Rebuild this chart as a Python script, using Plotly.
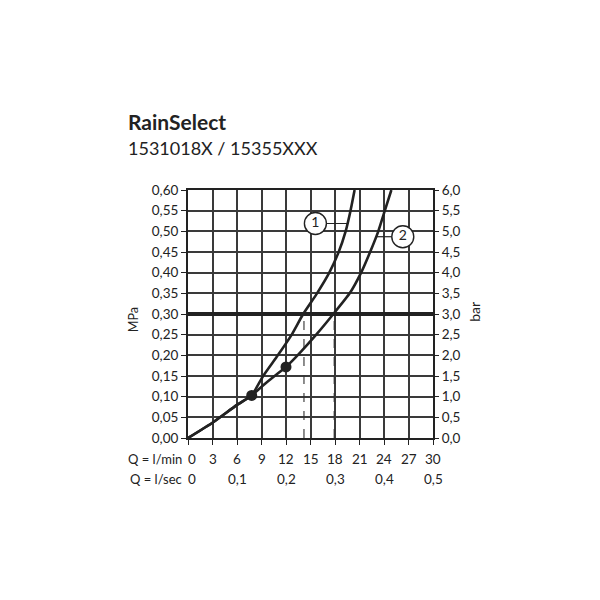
import plotly.graph_objects as go

# ---- data ----
flow_ticks = [0, 3, 6, 9, 12, 15, 18, 21, 24, 27, 30]
flow_tick_labels = ["0", "3", "6", "9", "12", "15", "18", "21", "24", "27", "30"]
lsec_vals = [0, 6, 12, 18, 24, 30]
lsec_labels = ["0", "0,1", "0,2", "0,3", "0,4", "0,5"]
mpa_ticks = [0.00, 0.05, 0.10, 0.15, 0.20, 0.25, 0.30, 0.35, 0.40, 0.45, 0.50, 0.55, 0.60]
mpa_labels = ["0,00", "0,05", "0,10", "0,15", "0,20", "0,25", "0,30", "0,35", "0,40", "0,45", "0,50", "0,55", "0,60"]
bar_ticks = [0, 0.5, 1, 1.5, 2, 2.5, 3, 3.5, 4, 4.5, 5, 5.5, 6]
bar_labels = ["0,0", "0,5", "1,0", "1,5", "2,0", "2,5", "3,0", "3,5", "4,0", "4,5", "5,0", "5,5", "6,0"]

curve1_q = [0, 3, 6, 7.8, 9.2, 11.0, 12.7, 14.1, 15.8, 17.3, 18.45, 19.3, 19.9, 20.4]
curve1_p = [0, 0.037, 0.080, 0.103, 0.15, 0.20, 0.25, 0.30, 0.35, 0.40, 0.45, 0.50, 0.55, 0.60]
curve2_q = [0, 3, 6, 7.8, 9, 10.6, 12, 13.7, 15.7, 17.8, 19.8, 21.2, 22.3, 23.3, 24.1, 24.9]
curve2_p = [0, 0.037, 0.080, 0.103, 0.124, 0.15, 0.172, 0.206, 0.25, 0.30, 0.35, 0.40, 0.45, 0.50, 0.55, 0.60]

dot_q = [7.8, 12.0]
dot_p = [0.103, 0.172]

ref_pressure = 0.30
flow_at_ref = [14.2, 17.9]

callout_labels = ["1", "2"]
callout_q = [15.6, 26.3]
callout_p = [0.519, 0.487]
leader_end_q = [19.6, 23.0]

INK = "#222222"
GRID = "#3a3a3a"
FONT = "Lato"
TICK_SIZE = 13.5

fig = go.Figure()

# dashed verticals
for q in flow_at_ref:
    fig.add_trace(go.Scatter(x=[q, q], y=[0, ref_pressure], mode="lines",
                             line=dict(color="#333333", width=1.1, dash="dash"),
                             hoverinfo="skip", showlegend=False))

# curves
fig.add_trace(go.Scatter(x=curve1_q, y=curve1_p, mode="lines",
                         line=dict(color=INK, width=2.6, shape="spline", smoothing=0.4),
                         showlegend=False))
fig.add_trace(go.Scatter(x=curve2_q, y=curve2_p, mode="lines",
                         line=dict(color=INK, width=2.6, shape="spline", smoothing=0.4),
                         showlegend=False))
fig.add_trace(go.Scatter(x=dot_q, y=dot_p, mode="markers",
                         marker=dict(color=INK, size=11), showlegend=False))

# leader lines
for cq, cp, lq in zip(callout_q, callout_p, leader_end_q):
    fig.add_trace(go.Scatter(x=[cq, lq], y=[cp, cp], mode="lines",
                             line=dict(color=INK, width=1.2), showlegend=False))

# callout circles
fig.add_trace(go.Scatter(x=callout_q, y=callout_p, mode="markers+text",
                         text=callout_labels, textposition="middle center",
                         textfont=dict(family=FONT, size=14, color=INK),
                         marker=dict(symbol="circle", size=22, color="white",
                                     line=dict(color=INK, width=1.4)),
                         cliponaxis=False, showlegend=False))

# invisible trace for bar axis
fig.add_trace(go.Scatter(x=[0, 30], y=[0, 6], yaxis="y2", mode="markers",
                         marker=dict(opacity=0), hoverinfo="skip", showlegend=False))

fig.add_shape(type="line", xref="paper", x0=0, x1=1, yref="y", y0=ref_pressure, y1=ref_pressure,
              line=dict(color=INK, width=4))

annotations = []
# title
annotations.append(dict(text="<b>RainSelect</b>", xref="paper", yref="paper", x=0, y=1,
                        xanchor="left", yanchor="middle", xshift=-62, yshift=69,
                        showarrow=False, font=dict(family=FONT, size=21, color=INK)))
annotations.append(dict(text="1531018X / 15355XXX", xref="paper", yref="paper", x=0, y=1,
                        xanchor="left", yanchor="middle", xshift=-62, yshift=42,
                        showarrow=False, font=dict(family=FONT, size=18, color=INK)))
# axis titles
annotations.append(dict(text="MPa", xref="paper", yref="paper", x=0, y=0.475, textangle=-90,
                        xanchor="center", yanchor="middle", xshift=-55,
                        showarrow=False, font=dict(family=FONT, size=12.5, color=INK)))
annotations.append(dict(text="bar", xref="paper", yref="paper", x=1, y=0.509, textangle=-90,
                        xanchor="center", yanchor="middle", xshift=42,
                        showarrow=False, font=dict(family=FONT, size=14, color=INK)))
# bottom rows
annotations.append(dict(text="Q = l/min", xref="paper", yref="paper", x=0, y=0,
                        xanchor="right", yanchor="middle", xshift=-4, yshift=-21,
                        showarrow=False, font=dict(family=FONT, size=13, color=INK)))
annotations.append(dict(text="Q = l/sec", xref="paper", yref="paper", x=0, y=0,
                        xanchor="right", yanchor="middle", xshift=-4, yshift=-41,
                        showarrow=False, font=dict(family=FONT, size=13, color=INK)))
for v, t in zip(flow_ticks, flow_tick_labels):
    annotations.append(dict(text=t, xref="x", yref="paper", x=v, y=0,
                            xanchor="center", yanchor="middle", yshift=-21, xshift=4 if v == 0 else 0,
                            showarrow=False, font=dict(family=FONT, size=TICK_SIZE, color=INK)))
for v, t in zip(lsec_vals, lsec_labels):
    annotations.append(dict(text=t, xref="x", yref="paper", x=v, y=0,
                            xanchor="center", yanchor="middle", yshift=-41, xshift=4 if v == 0 else 0,
                            showarrow=False, font=dict(family=FONT, size=TICK_SIZE, color=INK)))

fig.update_layout(
    width=600, height=600,
    margin=dict(l=180, r=175, t=182, b=170),
    paper_bgcolor="white", plot_bgcolor="white",
    font=dict(family=FONT, size=12, color=INK),
    annotations=annotations,
    xaxis=dict(range=[0, 30], tickvals=flow_ticks, showticklabels=False,
               ticks="outside", ticklen=5, tickcolor=INK, tickwidth=1.2,
               showgrid=True, gridcolor=GRID, gridwidth=1.6,
               showline=True, linecolor=INK, linewidth=2, mirror=True, zeroline=False,
               fixedrange=True),
    yaxis=dict(range=[0, 0.6], tickvals=mpa_ticks, ticktext=mpa_labels,
               ticks="outside", ticklen=5, tickcolor=INK, tickwidth=1.2,
               tickfont=dict(family=FONT, size=TICK_SIZE, color=INK),
               showgrid=True, gridcolor=GRID, gridwidth=1.6,
               showline=True, linecolor=INK, linewidth=2, mirror=True, zeroline=False),
    yaxis2=dict(range=[0, 6], overlaying="y", side="right", tickvals=bar_ticks, ticktext=bar_labels,
                ticks="outside", ticklen=5, tickcolor=INK, tickwidth=1.2,
                tickfont=dict(family=FONT, size=TICK_SIZE, color=INK),
                showgrid=False, zeroline=False, showline=False),
)

fig.write_html("out.html")
